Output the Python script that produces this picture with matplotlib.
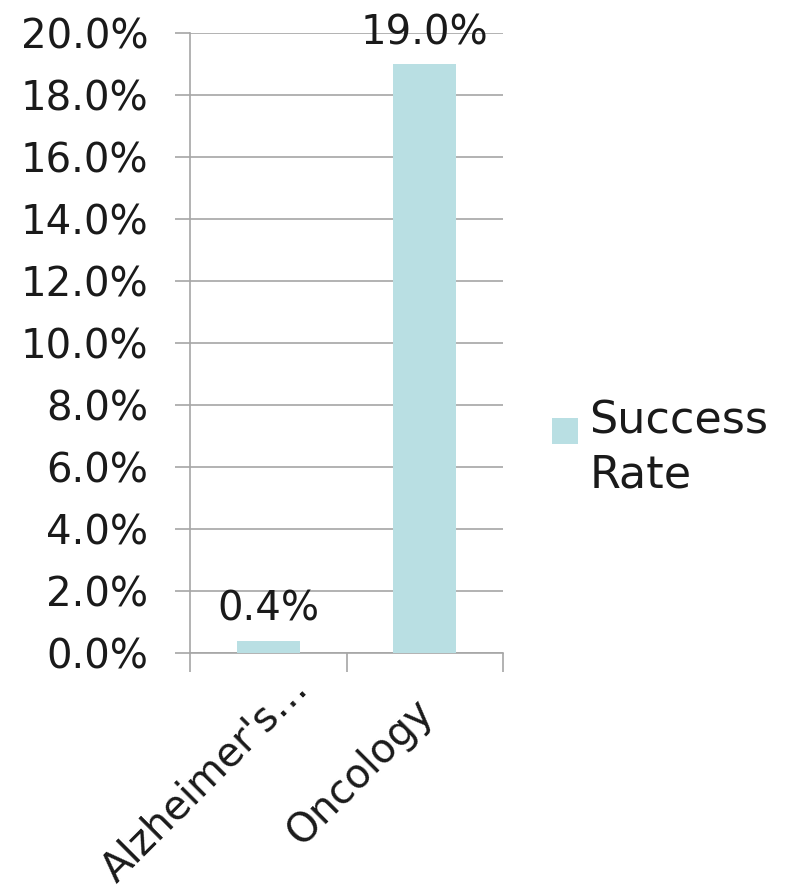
import matplotlib

matplotlib.use("Agg")
import matplotlib.pyplot as plt
import matplotlib.transforms as mtransforms
import numpy as np
from matplotlib.patches import Rectangle

categories = ["Alzheimer's…", "Oncology"]
success_rate = [0.4, 19.0]
yticks = [0, 2, 4, 6, 8, 10, 12, 14, 16, 18, 20]
series_name = "Success\nRate"

bar_color = "#B9DFE3"
grid_color = "#A6A6A6"
text_color = "#1a1a1a"

plt.rcParams["font.family"] = ["DejaVu Sans"]

fig = plt.figure(figsize=(7.92, 8.96), dpi=100)
ax = fig.add_axes([0.2399, 0.2712, 0.3952, 0.692])

x = np.arange(len(categories))
ax.bar(x, success_rate, width=0.4, color=bar_color, zorder=3)
for xi, v in zip(x, success_rate):
    ax.text(xi, v + 0.35, f"{v:.1f}%", ha="center", va="bottom", fontsize=29, color=text_color, zorder=4)

ax.set_xlim(-0.5, 1.5)
ax.set_ylim(0, 20)
ax.set_yticks(yticks)
ax.set_yticklabels([f"{t:.1f}%" for t in yticks], fontsize=29, color=text_color)
ax.yaxis.grid(True, color=grid_color, linewidth=1.2, zorder=0)
ax.tick_params(axis="y", length=11, color=grid_color, width=1.2, pad=19)

ax.set_xticks(x)
ax.set_xticklabels(categories, rotation=45, ha="right", rotation_mode="anchor", fontsize=29, color=text_color)
ax.set_xticks([-0.5, 0.5, 1.5], minor=True)
ax.tick_params(axis="x", which="major", length=0, pad=22)
ax.tick_params(axis="x", which="minor", length=14, color=grid_color, width=1.2)

# nudge the rotated labels like the original layout
offsets = [(20, 15), (-12, -8)]
for lbl, (dx, dy) in zip(ax.get_xticklabels(), offsets):
    lbl.set_transform(lbl.get_transform() + mtransforms.ScaledTranslation(dx / 100, dy / 100, fig.dpi_scale_trans))

for s in ["top", "right"]:
    ax.spines[s].set_visible(False)
for s in ["left", "bottom"]:
    ax.spines[s].set_color(grid_color)
    ax.spines[s].set_linewidth(1.2)

# legend: square aligned with first line of the series name
fig.patches.append(Rectangle((0.697, 0.5045), 0.0328, 0.029, transform=fig.transFigure,
                             facecolor=bar_color, edgecolor="none"))
fig.text(0.744, 1 - 400 / 896, series_name, ha="left", va="top", fontsize=32,
         color=text_color, linespacing=1.3)

fig.savefig("out.png", dpi=100)
